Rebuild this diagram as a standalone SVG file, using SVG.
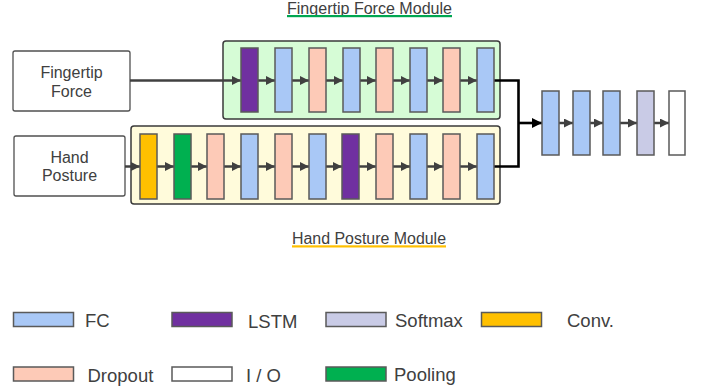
<svg xmlns="http://www.w3.org/2000/svg" width="705" height="392" viewBox="0 0 705 392">
<style>
text{font-family:"Liberation Sans",Arial,sans-serif;fill:#404040}
.t{font-size:16px}
.lg{font-size:18.5px}
.L{stroke:#5a5a5a;stroke-width:1.5}
.fc{fill:#a9c8f6}
.dp{fill:#fdcab7}
.ls{fill:#7030a0}
.sm{fill:#c9cbe6}
.cv{fill:#ffc000}
.pl{fill:#00b050}
.io{fill:#ffffff}
.box{fill:#fff;stroke:#505050;stroke-width:1.3}
.a{stroke:#404040;stroke-width:2.5;fill:none;marker-end:url(#ah)}
.k{stroke:#000;stroke-width:2.6;fill:none}
</style>
<defs>
<marker id="ah" markerUnits="userSpaceOnUse" viewBox="0 0 10 10" markerWidth="9" markerHeight="9" refX="10" refY="5" orient="auto"><path d="M0,0L10,5L0,10z" fill="#404040"/></marker>
<marker id="ahk" markerUnits="userSpaceOnUse" viewBox="0 0 10 10" markerWidth="10" markerHeight="10" refX="10" refY="5" orient="auto"><path d="M0,0L10,5L0,10z" fill="#000"/></marker>
</defs>

<g id="title-fingertip">
<text class="t" x="287" y="13.5" textLength="165" lengthAdjust="spacingAndGlyphs">Fingertip Force Module</text>
<rect x="287" y="15" width="165" height="2.2" fill="#00a650"/>
</g>
<g id="title-hand">
<text class="t" x="292" y="244" textLength="154" lengthAdjust="spacingAndGlyphs">Hand Posture Module</text>
<rect x="292" y="245.3" width="154" height="2.2" fill="#ffc000"/>
</g>

<g id="module-fingertip"><rect x="223" y="41" width="277" height="78" rx="3" fill="#d6fcd6" stroke="#3a3a3a" stroke-width="1.5"/></g>
<g id="module-hand"><rect x="131" y="126" width="369" height="78" rx="3" fill="#fffbdb" stroke="#3a3a3a" stroke-width="1.5"/></g>

<g id="input-fingertip"><rect class="box" x="13" y="51" width="117" height="60" rx="2"/>
<text class="t" x="71.5" y="78.3" text-anchor="middle">Fingertip</text>
<text class="t" x="71.5" y="96.7" text-anchor="middle">Force</text></g>
<g id="input-hand"><rect class="box" x="14" y="136" width="111" height="60" rx="2"/>
<text class="t" x="69.5" y="162.7" text-anchor="middle">Hand</text>
<text class="t" x="69.5" y="181" text-anchor="middle">Posture</text></g>

<g id="connectors">
<line class="a" x1="130" y1="80.5" x2="241" y2="80.5"/>
<line class="a" x1="258" y1="80.5" x2="275" y2="80.5"/>
<line class="a" x1="292" y1="80.5" x2="309" y2="80.5"/>
<line class="a" x1="326" y1="80.5" x2="343" y2="80.5"/>
<line class="a" x1="360" y1="80.5" x2="376" y2="80.5"/>
<line class="a" x1="393" y1="80.5" x2="410" y2="80.5"/>
<line class="a" x1="427" y1="80.5" x2="443" y2="80.5"/>
<line class="a" x1="460" y1="80.5" x2="477" y2="80.5"/>
<line class="a" x1="125" y1="166.5" x2="140" y2="166.5"/>
<line class="a" x1="157" y1="166.5" x2="174" y2="166.5"/>
<line class="a" x1="191" y1="166.5" x2="207" y2="166.5"/>
<line class="a" x1="224" y1="166.5" x2="241" y2="166.5"/>
<line class="a" x1="258" y1="166.5" x2="275" y2="166.5"/>
<line class="a" x1="292" y1="166.5" x2="309" y2="166.5"/>
<line class="a" x1="326" y1="166.5" x2="342" y2="166.5"/>
<line class="a" x1="359" y1="166.5" x2="376" y2="166.5"/>
<line class="a" x1="393" y1="166.5" x2="410" y2="166.5"/>
<line class="a" x1="427" y1="166.5" x2="443" y2="166.5"/>
<line class="a" x1="460" y1="166.5" x2="477" y2="166.5"/>
<polyline class="k" points="494,80.5 518.5,80.5 518.5,166.5 494,166.5"/>
<line class="k" x1="518.5" y1="123" x2="542" y2="123" marker-end="url(#ahk)"/>
<line class="a" x1="559" y1="123" x2="573" y2="123"/>
<line class="a" x1="590" y1="123" x2="603" y2="123"/>
<line class="a" x1="620" y1="123" x2="637" y2="123"/>
<line class="a" x1="654" y1="123" x2="669" y2="123"/>
</g>

<g id="f-lstm"><rect class="L ls" x="241" y="48" width="17" height="64"/></g>
<g id="f-fc1"><rect class="L fc" x="275" y="48" width="17" height="64"/></g>
<g id="f-dp1"><rect class="L dp" x="309" y="48" width="17" height="64"/></g>
<g id="f-fc2"><rect class="L fc" x="343" y="48" width="17" height="64"/></g>
<g id="f-dp2"><rect class="L dp" x="376" y="48" width="17" height="64"/></g>
<g id="f-fc3"><rect class="L fc" x="410" y="48" width="17" height="64"/></g>
<g id="f-dp3"><rect class="L dp" x="443" y="48" width="17" height="64"/></g>
<g id="f-fc4"><rect class="L fc" x="477" y="48" width="17" height="64"/></g>

<g id="h-conv"><rect class="L cv" x="140" y="134" width="17" height="65"/></g>
<g id="h-pool"><rect class="L pl" x="174" y="134" width="17" height="65"/></g>
<g id="h-dp1"><rect class="L dp" x="207" y="134" width="17" height="65"/></g>
<g id="h-fc1"><rect class="L fc" x="241" y="134" width="17" height="65"/></g>
<g id="h-dp2"><rect class="L dp" x="275" y="134" width="17" height="65"/></g>
<g id="h-fc2"><rect class="L fc" x="309" y="134" width="17" height="65"/></g>
<g id="h-lstm"><rect class="L ls" x="342" y="134" width="17" height="65"/></g>
<g id="h-dp3"><rect class="L dp" x="376" y="134" width="17" height="65"/></g>
<g id="h-fc3"><rect class="L fc" x="410" y="134" width="17" height="65"/></g>
<g id="h-dp4"><rect class="L dp" x="443" y="134" width="17" height="65"/></g>
<g id="h-fc4"><rect class="L fc" x="477" y="134" width="17" height="65"/></g>

<g id="o-fc1"><rect class="L fc" x="542" y="91" width="17" height="64"/></g>
<g id="o-fc2"><rect class="L fc" x="573" y="91" width="17" height="64"/></g>
<g id="o-fc3"><rect class="L fc" x="603" y="91" width="17" height="64"/></g>
<g id="o-softmax"><rect class="L sm" x="637" y="91" width="17" height="64"/></g>
<g id="o-io"><rect class="L io" x="669" y="91" width="16" height="64"/></g>

<g id="legend">
<rect class="L fc" x="13.5" y="312.5" width="60" height="14"/><text class="lg" x="85" y="327">FC</text>
<rect class="L ls" x="172" y="312.5" width="60" height="14"/><text class="lg" x="248" y="327.5">LSTM</text>
<rect class="L sm" x="326" y="312.5" width="60" height="14"/><text class="lg" x="395" y="327">Softmax</text>
<rect class="L cv" x="481.5" y="312.5" width="60" height="14"/><text class="lg" x="567" y="327">Conv.</text>
<rect class="L dp" x="13.5" y="367" width="60" height="14"/><text class="lg" x="87.5" y="381.5">Dropout</text>
<rect class="L io" x="172" y="367" width="60" height="14"/><text class="lg" x="246" y="381.5">I / O</text>
<rect class="L pl" x="326" y="367" width="60" height="14"/><text class="lg" x="394" y="381">Pooling</text>
</g>
</svg>
